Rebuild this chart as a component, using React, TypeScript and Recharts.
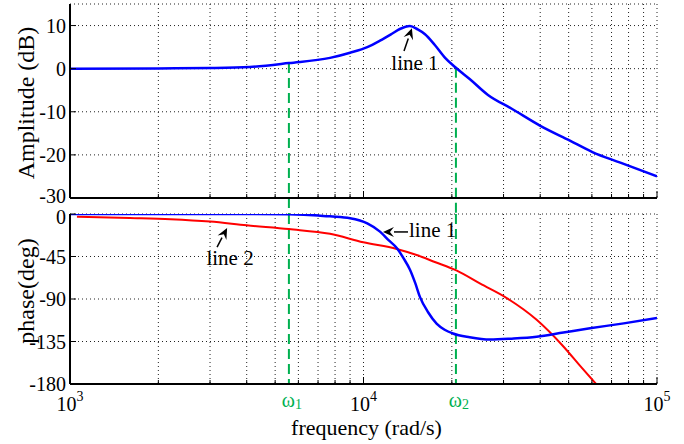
import { LineChart, Line, XAxis, YAxis, CartesianGrid, ReferenceLine } from "recharts";

const FONT = "Liberation Serif";
const BLUE = "#0000ff";
const RED = "#ff0000";
const GREEN = "#00b050";

// x axis (rad/s), log scale
const decades = [1000, 10000, 100000];
const freqTicks = [
  1000, 2000, 3000, 4000, 5000, 6000, 7000, 8000, 9000,
  10000, 20000, 30000, 40000, 50000, 60000, 70000, 80000, 90000, 100000,
];
const ampTicks = [-30, -20, -10, 0, 10];
const phaseTicks = [-180, -135, -90, -45, 0];

const omega1 = 5570;
const omega2 = 20650;
const ampAtOmega1 = 1.3;
const ampAtOmega2 = 0.2;

// amplitude, line 1
const ampFreq = [
  1000, 2000, 3000, 4100, 5570, 7690, 9000, 10300, 11380, 12500, 13300, 14400,
  15300, 16200, 17500, 18970, 20650, 23000, 26550, 32000, 39900, 50500, 60500, 75000, 100000,
];
const ampLine1 = [
  0, 0.05, 0.15, 0.4, 1.3, 2.5, 3.7, 5.0, 6.5, 8.1, 9.2, 9.9,
  9.1, 8.0, 5.5, 2.5, 0.2, -2.4, -6.1, -9.3, -13.2, -16.7, -19.4, -21.8, -25,
];

// phase, line 1
const phFreq1 = [
  1000, 2000, 4000, 5570, 7000, 7690, 9000, 10300, 11380, 12200, 12980, 13700, 14400,
  15000, 15580, 16600, 17740, 18900, 20170, 23000, 26980, 32000, 38900, 48000, 59100, 77000, 100000,
];
const phLine1 = [
  0, 0, 0, -0.3, -1.5, -2.5, -4.5, -10, -18.7, -28, -36, -47, -59,
  -73, -88, -104, -116, -122.5, -126.5, -130.5, -133, -132, -130, -125.5, -121, -115.8, -110,
];

// phase, line 2
const phFreq2 = [
  1056, 1600, 2200, 3000, 4000, 5570, 7690, 9980, 12980, 15170, 17500, 20800,
  25000, 30760, 38900, 47900, 55000, 62000,
];
const phLine2 = [
  -2.8, -4.2, -5.5, -8, -12, -16, -21, -30, -37, -43.4, -50.8, -60,
  -73.8, -89, -112, -140, -161.7, -180,
];

const ampData = ampFreq.map((f, i) => ({ f, v: ampLine1[i] }));
const phData1 = phFreq1.map((f, i) => ({ f, v: phLine1[i] }));
const phData2 = phFreq2.map((f, i) => ({ f, v: phLine2[i] }));

function xTick(side: "top" | "bottom", labels: boolean) {
  return (p: any) => {
    const { x, y, payload } = p;
    const v = payload.value;
    const major = decades.includes(v);
    const len = major ? 7 : 4;
    const dir = side === "bottom" ? -1 : 1;
    return (
      <g>
        <line x1={x} y1={y} x2={x} y2={y + dir * len} stroke="#000" strokeWidth={1} />
        {labels && major && (
          <text x={x} y={y + 27} textAnchor="middle" fontFamily={FONT} fontSize={20} fill="#000">
            <tspan>10</tspan>
            <tspan dy={-10} fontSize={14}>{Math.round(Math.log10(v))}</tspan>
          </text>
        )}
      </g>
    );
  };
}

// small nudges for the labels sitting on the panel edges
function yTick(side: "left" | "right", labels: boolean, top?: number, bottom?: number) {
  return (p: any) => {
    const { x, y, payload } = p;
    const dir = side === "left" ? 1 : -1;
    const v = payload.value;
    const nudge = v === top ? 3 : v === bottom ? -2 : 0;
    return (
      <g>
        <line x1={x} y1={y} x2={x + dir * 6} y2={y} stroke="#000" strokeWidth={1} />
        {labels && (
          <text x={x - 4} y={y + nudge} dy="0.35em" textAnchor="end" fontFamily={FONT} fontSize={20} fill="#000">
            {v}
          </text>
        )}
      </g>
    );
  };
}

function yTitle(text: string, shift: number) {
  return (p: any) => {
    const vb = p.viewBox;
    const cx = 26;
    const cy = vb.y + vb.height / 2 + shift;
    return (
      <text
        x={cx}
        y={cy}
        dy="0.35em"
        textAnchor="middle"
        transform={`rotate(-90, ${cx}, ${cy})`}
        fontFamily={FONT}
        fontSize={24}
        fill="#000"
      >
        {text}
      </text>
    );
  };
}

function arrow(text: string, dx: number, dy: number, anchor: "start" | "middle") {
  return (p: any) => {
    const { x1, y1, x2, y2 } = p;
    const ang = Math.atan2(y2 - y1, x2 - x1);
    const hl = 11;
    const hw = 5;
    const bx = x2 - hl * Math.cos(ang);
    const by = y2 - hl * Math.sin(ang);
    const nx = -Math.sin(ang) * hw;
    const ny = Math.cos(ang) * hw;
    return (
      <g>
        <line x1={x1} y1={y1} x2={bx} y2={by} stroke="#000" strokeWidth={1.5} />
        <polygon
          points={`${x2},${y2} ${bx + nx},${by + ny} ${x2 - 7 * Math.cos(ang)},${y2 - 7 * Math.sin(ang)} ${bx - nx},${by - ny}`}
          fill="#000"
        />
        <text x={x1 + dx} y={y1 + dy} textAnchor={anchor} fontFamily={FONT} fontSize={21} fill="#000">
          {text}
        </text>
      </g>
    );
  };
}

function omegaLabel(sub: string) {
  return (p: any) => {
    const vb = p.viewBox;
    return (
      <text x={vb.x + 3} y={vb.y + vb.height + 23} textAnchor="middle" fontFamily={FONT} fontSize={20} fill={GREEN}>
        ω<tspan dy={2} fontSize={14}>{sub}</tspan>
      </text>
    );
  };
}

function freqTitle(p: any) {
  const vb = p.viewBox;
  return (
    <text x={vb.x + vb.width / 2 + 3} y={vb.y + 51} textAnchor="middle" fontFamily={FONT} fontSize={22} fill="#000">
      frequency (rad/s)
    </text>
  );
}

const frame = { stroke: "#000", strokeWidth: 2 };

function AmplitudePanel() {
  return (
    <LineChart width={684} height={214} margin={{ top: 4, right: 27, bottom: 0, left: 0 }}>
      <XAxis
        xAxisId="b"
        dataKey="f"
        type="number"
        scale="log"
        domain={[1000, 100000]}
        allowDataOverflow
        ticks={freqTicks}
        interval={0}
        tickSize={0}
        tickMargin={0}
        tickLine={false}
        axisLine={frame}
        tick={xTick("bottom", false)}
        height={16}
      />
      <XAxis
        xAxisId="t"
        orientation="top"
        dataKey="f"
        type="number"
        scale="log"
        domain={[1000, 100000]}
        allowDataOverflow
        ticks={freqTicks}
        interval={0}
        tickSize={0}
        tickMargin={0}
        tickLine={false}
        axisLine={frame}
        tick={xTick("top", false)}
        height={0}
      />
      <YAxis
        yAxisId="l"
        type="number"
        domain={[-30, 15]}
        ticks={ampTicks}
        interval={0}
        tickSize={0}
        tickMargin={0}
        tickLine={false}
        axisLine={frame}
        tick={yTick("left", true, undefined, -30)}
        width={70}
        label={yTitle("Amplitude (dB)", 2)}
      />
      <YAxis
        yAxisId="r"
        orientation="right"
        type="number"
        domain={[-30, 15]}
        ticks={ampTicks}
        interval={0}
        tickSize={0}
        tickMargin={0}
        tickLine={false}
        axisLine={frame}
        tick={yTick("right", false)}
        width={0}
      />
      <CartesianGrid xAxisId="b" yAxisId="l" stroke="#222" strokeDasharray="1 3" />
      <ReferenceLine
        xAxisId="b"
        yAxisId="l"
        ifOverflow="visible"
        segment={[{ x: omega1, y: ampAtOmega1 }, { x: omega1, y: -33.7 }]}
        stroke={GREEN}
        strokeWidth={2}
        strokeDasharray="10 5"
      />
      <ReferenceLine
        xAxisId="b"
        yAxisId="l"
        ifOverflow="visible"
        segment={[{ x: omega2, y: ampAtOmega2 }, { x: omega2, y: -33.7 }]}
        stroke={GREEN}
        strokeWidth={2}
        strokeDasharray="10 5"
      />
      <Line
        xAxisId="b"
        yAxisId="l"
        data={ampData}
        dataKey="v"
        type="monotone"
        stroke={BLUE}
        strokeWidth={2.5}
        dot={false}
        isAnimationActive={false}
      />
      <ReferenceLine
        xAxisId="b"
        yAxisId="l"
        ifOverflow="visible"
        segment={[{ x: 13740, y: 4.1 }, { x: 14620, y: 9.4 }]}
        shape={arrow("line 1", 11, 19, "middle")}
      />
    </LineChart>
  );
}

function PhasePanel() {
  return (
    <LineChart width={684} height={244} margin={{ top: 14, right: 27, bottom: 0, left: 0 }}>
      <XAxis
        xAxisId="b"
        dataKey="f"
        type="number"
        scale="log"
        domain={[1000, 100000]}
        allowDataOverflow
        ticks={freqTicks}
        interval={0}
        tickSize={0}
        tickMargin={0}
        tickLine={false}
        axisLine={frame}
        tick={xTick("bottom", true)}
        height={60}
        label={freqTitle}
      />
      <XAxis
        xAxisId="t"
        orientation="top"
        dataKey="f"
        type="number"
        scale="log"
        domain={[1000, 100000]}
        allowDataOverflow
        ticks={freqTicks}
        interval={0}
        tickSize={0}
        tickMargin={0}
        tickLine={false}
        axisLine={frame}
        tick={xTick("top", false)}
        height={0}
      />
      <YAxis
        yAxisId="l"
        type="number"
        domain={[-180, 0]}
        allowDataOverflow
        ticks={phaseTicks}
        interval={0}
        tickSize={0}
        tickMargin={0}
        tickLine={false}
        axisLine={frame}
        tick={yTick("left", true, 0, undefined)}
        width={70}
        label={yTitle("phase(deg)", -8)}
      />
      <YAxis
        yAxisId="r"
        orientation="right"
        type="number"
        domain={[-180, 0]}
        ticks={phaseTicks}
        interval={0}
        tickSize={0}
        tickMargin={0}
        tickLine={false}
        axisLine={frame}
        tick={yTick("right", false)}
        width={0}
      />
      <CartesianGrid xAxisId="b" yAxisId="l" stroke="#222" strokeDasharray="1 3" />
      <ReferenceLine
        xAxisId="b"
        yAxisId="l"
        ifOverflow="visible"
        segment={[{ x: omega1, y: 0 }, { x: omega1, y: -180 }]}
        stroke={GREEN}
        strokeWidth={2}
        strokeDasharray="10 5"
        label={omegaLabel("1")}
      />
      <ReferenceLine
        xAxisId="b"
        yAxisId="l"
        ifOverflow="visible"
        segment={[{ x: omega2, y: 0 }, { x: omega2, y: -180 }]}
        stroke={GREEN}
        strokeWidth={2}
        strokeDasharray="10 5"
        label={omegaLabel("2")}
      />
      <Line
        xAxisId="b"
        yAxisId="l"
        data={phData2}
        dataKey="v"
        type="monotone"
        stroke={RED}
        strokeWidth={2}
        dot={false}
        isAnimationActive={false}
      />
      <Line
        xAxisId="b"
        yAxisId="l"
        data={phData1}
        dataKey="v"
        type="monotone"
        stroke={BLUE}
        strokeWidth={2.5}
        dot={false}
        isAnimationActive={false}
      />
      <ReferenceLine
        xAxisId="b"
        yAxisId="l"
        ifOverflow="visible"
        segment={[{ x: 14180, y: -19 }, { x: 11650, y: -19 }]}
        shape={arrow("line 1", 1, 5, "start")}
      />
      <ReferenceLine
        xAxisId="b"
        yAxisId="l"
        ifOverflow="visible"
        segment={[{ x: 3170, y: -35 }, { x: 3430, y: -14.8 }]}
        shape={arrow("line 2", 13, 18, "middle")}
      />
    </LineChart>
  );
}

export default function App() {
  return (
    <div style={{ position: "absolute", left: 0, top: 0, width: 684, height: 444, background: "#fff", fontFamily: FONT }}>
      <div style={{ position: "absolute", left: 0, top: 0 }}>
        <AmplitudePanel />
      </div>
      <div style={{ position: "absolute", left: 0, top: 200 }}>
        <PhasePanel />
      </div>
    </div>
  );
}
